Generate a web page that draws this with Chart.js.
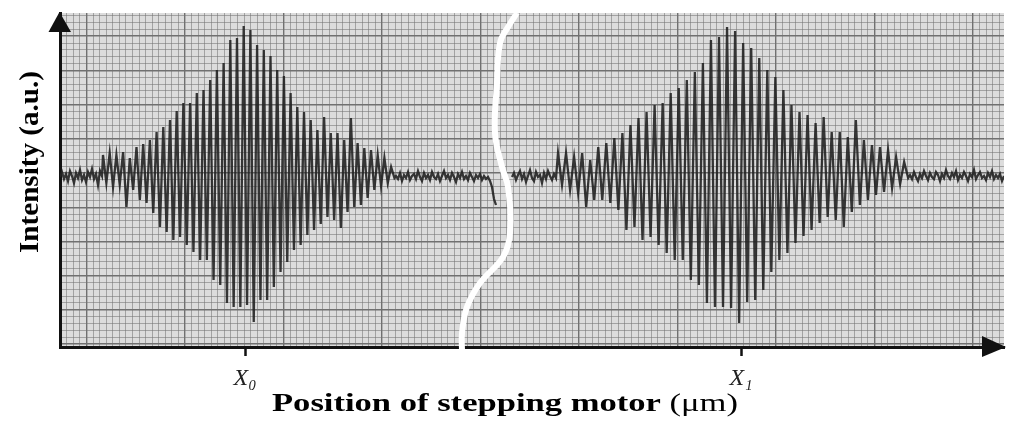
<!DOCTYPE html>
<html>
<head>
<meta charset="utf-8">
<script src="https://cdn.jsdelivr.net/npm/chart.js"></script>
<style>
  html, body { margin: 0; padding: 0; background: #fff; }
  #wrap { width: 1024px; height: 432px; }
</style>
</head>
<body>
<div id="wrap"><canvas id="chart"></canvas></div>
<script>
// Positions are in a.u. from the intensity axis; intensity in a.u. above the position axis.
const xMax = 944;
const yMax = 334;

const xTickValues = [185, 681];
const xTickLabels = ['X\u2080', 'X\u2081'];

// baseline noise before the first packet (x from 0, every 2)
const noiseA = [170, 175, 168, 173, 166, 176, 171, 164, 174, 169, 177, 167, 172, 165, 175, 170, 178, 168, 173, 162, 176, 171];

// first fringe packet around X0: upper and lower fringe extremes
const env1Start = 43, env1Period = 6.7;
const env1Peaks = [192, 194, 192, 195, 189, 200, 203, 207, 215, 220, 227, 236, 244, 244, 254, 257, 267, 277, 284, 307, 309, 321,
                   317, 302, 297, 291, 277, 271, 254, 240, 235, 227, 217, 230, 214, 214, 207, 229, 204, 199, 197, 192, 189, 180];
const env1Troughs = [164, 160, 162, 140, 157, 147, 144, 134, 120, 115, 107, 110, 102, 95, 87, 87, 67, 62, 44, 40, 40, 42,
                     25, 47, 47, 60, 75, 85, 97, 102, 112, 117, 123, 130, 127, 119, 135, 140, 142, 149, 157, 161, 164, 169];

// noise after the first packet, up to the break (x from 336, every 2)
const noiseB = [171, 168, 174, 166, 172, 169, 175, 167, 171, 173, 168, 176, 170, 166, 174, 169, 172, 167, 175, 170,
                168, 173, 166, 171, 176, 169, 172, 167, 174, 170, 165, 173, 169, 175, 168, 171, 167, 174, 170, 166,
                172, 169, 173, 167, 171, 168, 170, 166, 160, 148, 142];

// noise after the break (x from 452, every 2)
const noiseC = [170, 174, 167, 172, 176, 168, 173, 165, 171, 177, 169, 166, 175, 170, 172, 164, 174, 168, 176, 171, 167, 173, 169];

// second fringe packet around X1
const env2Start = 498, env2Period = 8.05;
const env2Peaks = [194, 194, 190, 194, 187, 200, 204, 209, 214, 222, 229, 235, 242, 244, 254, 259, 267, 275, 284, 307, 310, 320,
                   316, 304, 299, 289, 277, 270, 257, 242, 235, 232, 224, 230, 215, 215, 210, 227, 207, 202, 200, 197, 190, 185];
const env2Troughs = [162, 157, 154, 140, 147, 147, 144, 137, 117, 120, 107, 110, 102, 94, 87, 87, 67, 62, 44, 40, 40, 39,
                     24, 45, 47, 57, 75, 87, 94, 104, 111, 117, 124, 130, 127, 120, 135, 142, 147, 152, 155, 159, 163, 169];

// noise after the second packet (x from 850, every 2)
const noiseD = [172, 168, 175, 170, 166, 173, 169, 176, 171, 167, 174, 170, 168, 175, 172, 166, 173, 169, 177, 171,
                168, 174, 170, 176, 167, 172, 169, 175, 171, 166, 173, 170, 177, 168, 172, 175, 169, 171, 167, 174,
                170, 176, 168, 172, 169, 173, 166, 171];

// the white axis-break curve
const breakX = [457, 448, 440, 437, 435, 442, 448, 450, 443, 420, 407, 402, 402];
const breakY = [334, 320, 304, 264, 214, 180, 160, 114, 90, 64, 40, 14, -4];

function run(values, start, step) {
    return values.map((v, i) => ({ x: start + i * step, y: v }));
}

function packet(peaks, troughs, start, period) {
    const pts = [];
    peaks.forEach((p, i) => {
        pts.push({ x: start + i * period, y: p });
        pts.push({ x: start + i * period + period / 2, y: troughs[i] });
    });
    return pts;
}

const leftTrace = [].concat(
    run(noiseA, 0, 2),
    packet(env1Peaks, env1Troughs, env1Start, env1Period),
    run(noiseB, 336, 2)
);
const rightTrace = [].concat(
    run(noiseC, 452, 2),
    packet(env2Peaks, env2Troughs, env2Start, env2Period),
    run(noiseD, 850, 2)
);
const breakLine = breakX.map((x, i) => ({ x: x, y: breakY[i] }));

// chart paper grid
const minorColor = 'rgba(115,115,115,0.55)';
const majorColor = '#707070';
const traceColor = 'rgba(34,34,34,0.9)';

function gridTicks(first, step, max, majorEvery, offset) {
    const ticks = [];
    for (let k = 0; first + k * step <= max + 0.01; k++) {
        ticks.push({ value: first + k * step, major: (k + offset) % majorEvery === 0 });
    }
    return ticks;
}

// draws text so that it spans a given length
function fitText(ctx, parts, length) {
    let total = 0;
    parts.forEach(p => { ctx.font = p.font; p.w = ctx.measureText(p.text).width; total += p.w; });
    const k = length / total;
    ctx.scale(k, 1);
    let x = -total / 2;
    parts.forEach(p => { ctx.font = p.font; ctx.fillText(p.text, x, 0); x += p.w; });
}

const paperPlugin = {
    id: 'paper',
    beforeDraw(chart) {
        const { ctx, chartArea: a } = chart;
        ctx.save();
        ctx.fillStyle = '#dcdcdc';
        ctx.fillRect(a.left, a.top, a.right - a.left, a.bottom - a.top);
        ctx.restore();
    },
    afterDraw(chart) {
        const { ctx, chartArea: a } = chart;
        ctx.save();
        ctx.fillStyle = '#111';
        // arrow heads
        ctx.beginPath();
        ctx.moveTo(a.left - 11.5, a.top + 19);
        ctx.lineTo(a.left - 0.5, a.top - 1);
        ctx.lineTo(a.left + 11, a.top + 19);
        ctx.closePath();
        ctx.fill();
        ctx.beginPath();
        ctx.moveTo(a.right - 22, a.bottom - 11);
        ctx.lineTo(a.right + 2, a.bottom);
        ctx.lineTo(a.right - 22, a.bottom + 10);
        ctx.closePath();
        ctx.fill();

        // axis titles
        ctx.fillStyle = '#000';
        ctx.textBaseline = 'alphabetic';
        ctx.textAlign = 'left';
        ctx.save();
        ctx.translate(505, 411);
        fitText(ctx, [
            { text: 'Position of stepping motor ', font: 'bold 25px "Liberation Serif"' },
            { text: '(\u03bcm)', font: '25px "Liberation Serif"' }
        ], 466);
        ctx.restore();

        ctx.save();
        ctx.translate(38, 162);
        ctx.rotate(-Math.PI / 2);
        fitText(ctx, [{ text: 'Intensity (a.u.)', font: 'bold 27px "Liberation Serif"' }], 182);
        ctx.restore();
        ctx.restore();
    }
};

new Chart(document.getElementById('chart'), {
    type: 'line',
    data: {
        datasets: [
            { label: 'break', data: breakLine, borderColor: '#ffffff', borderWidth: 6, tension: 0.4,
              pointRadius: 0, clip: false, order: 0 },
            { label: 'left', data: leftTrace, borderColor: traceColor, borderWidth: 2.3, tension: 0,
              pointRadius: 0, order: 1 },
            { label: 'right', data: rightTrace, borderColor: traceColor, borderWidth: 2.3, tension: 0,
              pointRadius: 0, order: 1 }
        ]
    },
    options: {
        responsive: true,
        maintainAspectRatio: false,
        animation: false,
        layout: { padding: { left: 60, top: 13, right: 20, bottom: 0 } },
        plugins: { legend: { display: false }, tooltip: { enabled: false } },
        scales: {
            x: {
                type: 'linear', position: 'bottom', min: 0, max: xMax,
                afterBuildTicks: s => { s.ticks = gridTicks(0.233, 98.5 / 15, xMax, 15, 11); },
                afterFit: s => { s.height = 0; },
                ticks: { display: false, autoSkip: false },
                grid: {
                    drawTicks: false,
                    color: c => (c.tick && c.tick.major ? majorColor : minorColor),
                    lineWidth: c => (c.tick && c.tick.major ? 1.4 : 1)
                },
                border: { display: true, color: '#111', width: 3 }
            },
            x2: {
                type: 'linear', position: 'bottom', min: 0, max: xMax,
                afterBuildTicks: s => { s.ticks = xTickValues.map(v => ({ value: v })); },
                afterFit: s => { s.height = 85; },
                ticks: {
                    autoSkip: false, maxRotation: 0, padding: 8, color: '#222',
                    font: { family: 'Liberation Serif', size: 24, style: 'italic' },
                    callback: (v) => xTickLabels[xTickValues.indexOf(v)]
                },
                grid: { drawOnChartArea: false, drawTicks: true, tickLength: 9, tickWidth: 2.5, tickColor: '#111' },
                border: { display: false }
            },
            y: {
                type: 'linear', min: 0, max: yMax,
                afterBuildTicks: s => { s.ticks = gridTicks(3, 6.84, yMax, 5, 0); },
                afterFit: s => { s.width = 0; },
                ticks: { display: false, autoSkip: false },
                grid: {
                    drawTicks: false,
                    color: c => (c.tick && c.tick.major ? majorColor : minorColor),
                    lineWidth: c => (c.tick && c.tick.major ? 1.4 : 1)
                },
                border: { display: true, color: '#111', width: 3 }
            }
        }
    },
    plugins: [paperPlugin]
});
</script>
</body>
</html>
